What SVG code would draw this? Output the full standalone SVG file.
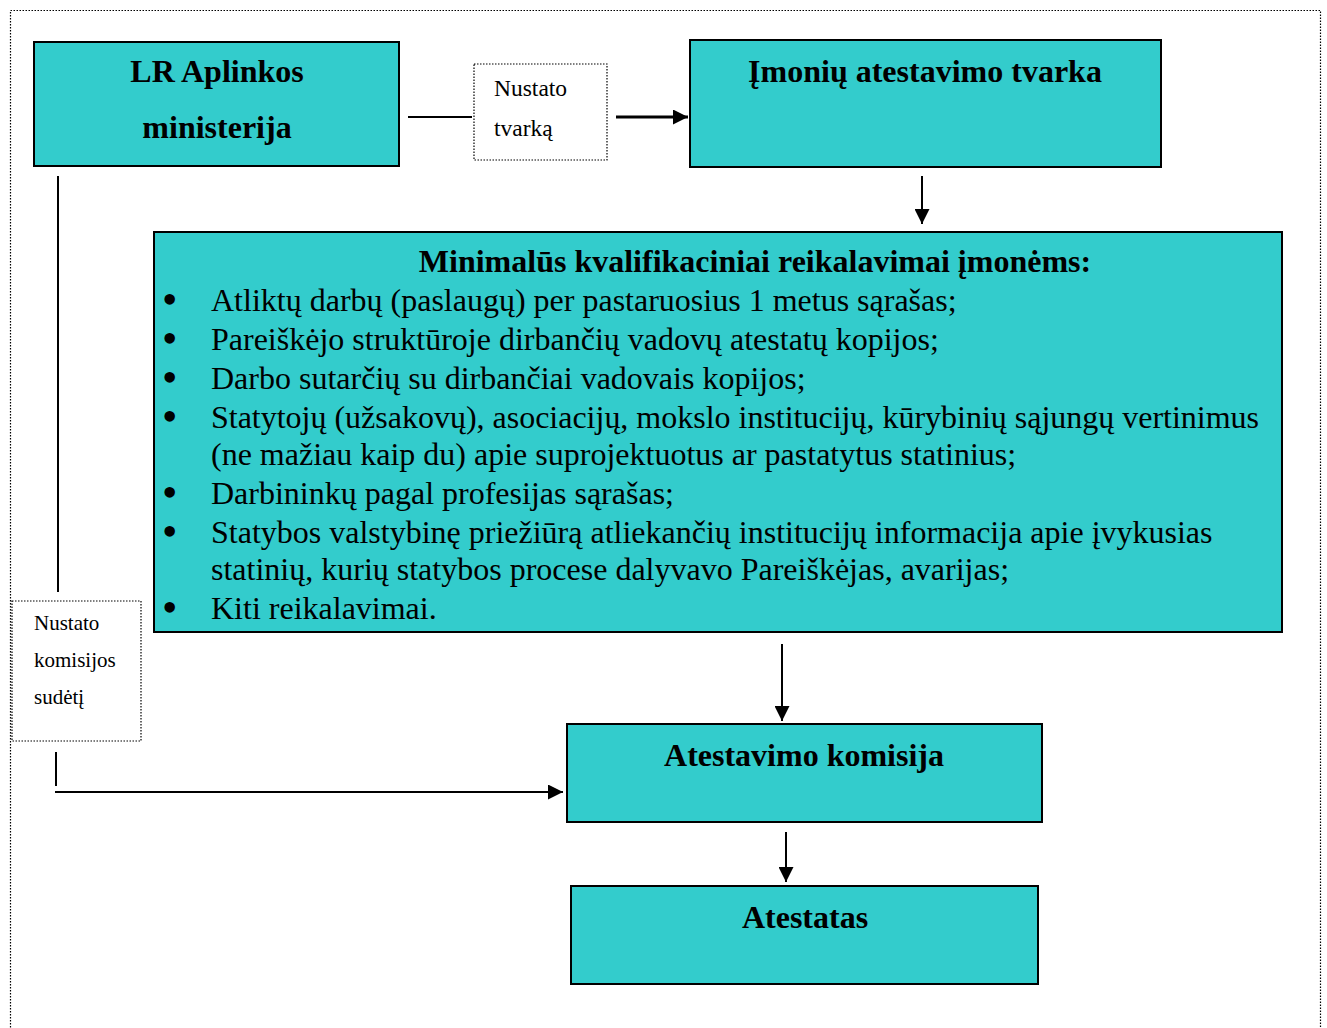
<svg xmlns="http://www.w3.org/2000/svg" width="1327" height="1028" viewBox="0 0 1327 1028">
<defs>
<style>
.box{fill:#33CCCC;stroke:#000;stroke-width:2}
.dot{fill:#fff;stroke:#000;stroke-width:1.2;stroke-dasharray:1.5 1.5}
.t{font-family:"Liberation Serif","Times New Roman",serif;fill:#000}
.h{font-weight:bold;font-size:32px;text-anchor:middle}
.b{font-size:32px}
.bl{font-size:44px}
.s{font-size:23.5px}
.s2{font-size:21px}
.ln{stroke:#000;stroke-width:2;fill:none}
.lt{stroke:#000;stroke-width:3;fill:none}
</style>
<marker id="ah" viewBox="0 0 10 10" refX="10" refY="5" markerWidth="5" markerHeight="5" orient="auto" markerUnits="strokeWidth">
<path d="M0,0 L10,5 L0,10 z" fill="#000"/>
</marker>
<marker id="ah2" viewBox="0 0 10 10" refX="10" refY="5" markerWidth="7.5" markerHeight="7.5" orient="auto" markerUnits="strokeWidth">
<path d="M0,0 L10,5 L0,10 z" fill="#000"/>
</marker>
</defs>
<rect x="10.5" y="10.5" width="1310" height="1030" fill="none" stroke="#000" stroke-width="1.2" stroke-dasharray="1.5 1.5"/>
<g id="connectors">
<line class="ln" x1="408" y1="117" x2="472" y2="117"/>
<line class="lt" x1="616" y1="117" x2="688" y2="117" marker-end="url(#ah)"/>
<line class="ln" x1="922" y1="176" x2="922" y2="224" marker-end="url(#ah2)"/>
<line class="ln" x1="58" y1="176" x2="58" y2="592"/>
<line class="ln" x1="56" y1="752" x2="56" y2="786"/>
<line class="ln" x1="55" y1="792" x2="563" y2="792" marker-end="url(#ah2)"/>
<line class="ln" x1="782" y1="644" x2="782" y2="721" marker-end="url(#ah2)"/>
<line class="ln" x1="786" y1="832" x2="786" y2="882" marker-end="url(#ah2)"/>
</g>
<g id="ministerija">
<rect class="box" x="34" y="42" width="365" height="124"/>
<text class="t h" x="217" y="82">LR Aplinkos</text>
<text class="t h" x="217" y="138">ministerija</text>
</g>
<g id="label-tvarka">
<rect class="dot" x="474" y="64" width="133" height="96"/>
<text class="t s" x="494" y="96">Nustato</text>
<text class="t s" x="494" y="136">tvarką</text>
</g>
<g id="tvarka">
<rect class="box" x="690" y="40" width="471" height="127"/>
<text class="t h" x="925" y="82">Įmonių atestavimo tvarka</text>
</g>
<g id="reikalavimai">
<rect class="box" x="154" y="232" width="1128" height="400"/>
<text class="t h" x="755" y="272">Minimalūs kvalifikaciniai reikalavimai įmonėms:</text>
<g class="t bl">
<text x="162" y="314">•</text>
<text x="162" y="353">•</text>
<text x="162" y="392">•</text>
<text x="162" y="431">•</text>
<text x="162" y="507">•</text>
<text x="162" y="546">•</text>
<text x="162" y="622">•</text>
</g>
<g class="t b">
<text x="211" y="311">Atliktų darbų (paslaugų) per pastaruosius 1 metus sąrašas;</text>
<text x="211" y="350">Pareiškėjo struktūroje dirbančių vadovų atestatų kopijos;</text>
<text x="211" y="389">Darbo sutarčių su dirbančiai vadovais kopijos;</text>
<text x="211" y="428" textLength="1048" lengthAdjust="spacing">Statytojų (užsakovų), asociacijų, mokslo institucijų, kūrybinių sąjungų vertinimus</text>
<text x="211" y="465">(ne mažiau kaip du) apie suprojektuotus ar pastatytus statinius;</text>
<text x="211" y="504">Darbininkų pagal profesijas sąrašas;</text>
<text x="211" y="543">Statybos valstybinę priežiūrą atliekančių institucijų informacija apie įvykusias</text>
<text x="211" y="580">statinių, kurių statybos procese dalyvavo Pareiškėjas, avarijas;</text>
<text x="211" y="619">Kiti reikalavimai.</text>
</g>
</g>
<g id="label-komisija">
<rect class="dot" x="12" y="601" width="129" height="140"/>
<text class="t s2" x="34" y="630">Nustato</text>
<text class="t s2" x="34" y="667">komisijos</text>
<text class="t s2" x="34" y="704">sudėtį</text>
</g>
<g id="komisija">
<rect class="box" x="567" y="724" width="475" height="98"/>
<text class="t h" x="804" y="766">Atestavimo komisija</text>
</g>
<g id="atestatas">
<rect class="box" x="571" y="886" width="467" height="98"/>
<text class="t h" x="805" y="928">Atestatas</text>
</g>
</svg>
